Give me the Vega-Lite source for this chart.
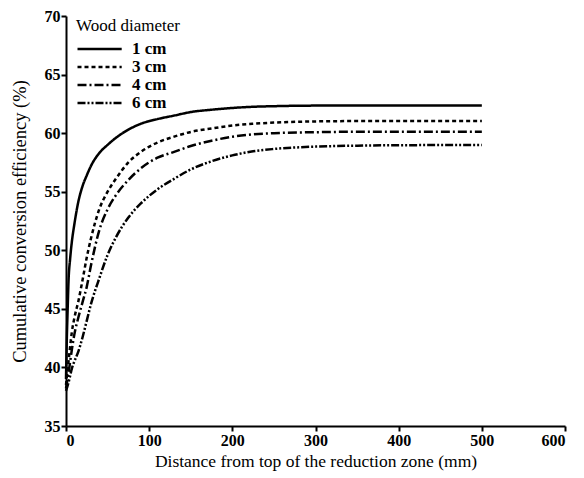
{
  "$schema": "https://vega.github.io/schema/vega-lite/v6.json",
  "width": 499,
  "height": 410,
  "autosize": {"type": "none"},
  "padding": {"left": 66, "top": 16, "right": 19, "bottom": 52},
  "background": "white",
  "config": {
    "view": {"stroke": null},
    "font": "Liberation Serif",
    "axis": {"grid": false, "domainColor": "black", "domainWidth": 2, "tickColor": "black", "tickWidth": 2, "tickSize": 5, "labelColor": "black", "titleColor": "black", "labelFont": "Liberation Serif", "titleFont": "Liberation Serif", "labelFontSize": 16, "labelFontWeight": "bold", "titleFontSize": 17.5, "titleFontWeight": "normal"}
  },
  "data": {"values": [
    {"d": 0, "v": 39.0, "s": "1 cm"}, {"d": 1, "v": 42.5, "s": "1 cm"}, {"d": 2, "v": 45.0, "s": "1 cm"}, {"d": 3, "v": 47.3, "s": "1 cm"}, {"d": 5, "v": 49.3, "s": "1 cm"}, {"d": 7, "v": 50.7, "s": "1 cm"}, {"d": 10, "v": 52.2, "s": "1 cm"}, {"d": 15, "v": 54.2, "s": "1 cm"}, {"d": 20, "v": 55.5, "s": "1 cm"}, {"d": 25, "v": 56.4, "s": "1 cm"}, {"d": 30, "v": 57.2, "s": "1 cm"}, {"d": 40, "v": 58.3, "s": "1 cm"}, {"d": 50, "v": 59.0, "s": "1 cm"}, {"d": 60, "v": 59.6, "s": "1 cm"}, {"d": 75, "v": 60.3, "s": "1 cm"}, {"d": 90, "v": 60.8, "s": "1 cm"}, {"d": 110, "v": 61.2, "s": "1 cm"}, {"d": 130, "v": 61.5, "s": "1 cm"}, {"d": 150, "v": 61.8, "s": "1 cm"}, {"d": 175, "v": 62.0, "s": "1 cm"}, {"d": 200, "v": 62.15, "s": "1 cm"}, {"d": 225, "v": 62.25, "s": "1 cm"}, {"d": 250, "v": 62.3, "s": "1 cm"}, {"d": 300, "v": 62.35, "s": "1 cm"}, {"d": 350, "v": 62.35, "s": "1 cm"}, {"d": 400, "v": 62.35, "s": "1 cm"}, {"d": 450, "v": 62.35, "s": "1 cm"}, {"d": 500, "v": 62.35, "s": "1 cm"},
    {"d": 0, "v": 38.5, "s": "3 cm"}, {"d": 3, "v": 40.5, "s": "3 cm"}, {"d": 5, "v": 41.8, "s": "3 cm"}, {"d": 7, "v": 43.0, "s": "3 cm"}, {"d": 10, "v": 44.2, "s": "3 cm"}, {"d": 15, "v": 45.7, "s": "3 cm"}, {"d": 20, "v": 47.5, "s": "3 cm"}, {"d": 25, "v": 49.4, "s": "3 cm"}, {"d": 30, "v": 51.0, "s": "3 cm"}, {"d": 40, "v": 53.5, "s": "3 cm"}, {"d": 50, "v": 55.0, "s": "3 cm"}, {"d": 60, "v": 56.1, "s": "3 cm"}, {"d": 75, "v": 57.5, "s": "3 cm"}, {"d": 90, "v": 58.4, "s": "3 cm"}, {"d": 110, "v": 59.2, "s": "3 cm"}, {"d": 130, "v": 59.7, "s": "3 cm"}, {"d": 150, "v": 60.1, "s": "3 cm"}, {"d": 175, "v": 60.4, "s": "3 cm"}, {"d": 200, "v": 60.65, "s": "3 cm"}, {"d": 225, "v": 60.8, "s": "3 cm"}, {"d": 250, "v": 60.9, "s": "3 cm"}, {"d": 300, "v": 61.0, "s": "3 cm"}, {"d": 350, "v": 61.03, "s": "3 cm"}, {"d": 400, "v": 61.03, "s": "3 cm"}, {"d": 450, "v": 61.03, "s": "3 cm"}, {"d": 500, "v": 61.03, "s": "3 cm"},
    {"d": 0, "v": 38.2, "s": "4 cm"}, {"d": 3, "v": 39.5, "s": "4 cm"}, {"d": 5, "v": 40.5, "s": "4 cm"}, {"d": 7, "v": 41.5, "s": "4 cm"}, {"d": 10, "v": 42.8, "s": "4 cm"}, {"d": 15, "v": 44.3, "s": "4 cm"}, {"d": 20, "v": 45.6, "s": "4 cm"}, {"d": 25, "v": 46.9, "s": "4 cm"}, {"d": 30, "v": 48.7, "s": "4 cm"}, {"d": 40, "v": 51.7, "s": "4 cm"}, {"d": 50, "v": 53.5, "s": "4 cm"}, {"d": 60, "v": 54.7, "s": "4 cm"}, {"d": 75, "v": 56.0, "s": "4 cm"}, {"d": 90, "v": 57.0, "s": "4 cm"}, {"d": 110, "v": 57.9, "s": "4 cm"}, {"d": 130, "v": 58.4, "s": "4 cm"}, {"d": 150, "v": 58.9, "s": "4 cm"}, {"d": 175, "v": 59.35, "s": "4 cm"}, {"d": 200, "v": 59.7, "s": "4 cm"}, {"d": 225, "v": 59.9, "s": "4 cm"}, {"d": 250, "v": 60.0, "s": "4 cm"}, {"d": 300, "v": 60.08, "s": "4 cm"}, {"d": 350, "v": 60.12, "s": "4 cm"}, {"d": 400, "v": 60.12, "s": "4 cm"}, {"d": 450, "v": 60.12, "s": "4 cm"}, {"d": 500, "v": 60.12, "s": "4 cm"},
    {"d": 0, "v": 38.0, "s": "6 cm"}, {"d": 3, "v": 38.7, "s": "6 cm"}, {"d": 5, "v": 39.3, "s": "6 cm"}, {"d": 7, "v": 39.9, "s": "6 cm"}, {"d": 10, "v": 40.5, "s": "6 cm"}, {"d": 15, "v": 41.4, "s": "6 cm"}, {"d": 20, "v": 42.6, "s": "6 cm"}, {"d": 25, "v": 44.0, "s": "6 cm"}, {"d": 30, "v": 45.4, "s": "6 cm"}, {"d": 40, "v": 47.6, "s": "6 cm"}, {"d": 50, "v": 49.6, "s": "6 cm"}, {"d": 60, "v": 51.1, "s": "6 cm"}, {"d": 75, "v": 52.8, "s": "6 cm"}, {"d": 90, "v": 54.0, "s": "6 cm"}, {"d": 110, "v": 55.2, "s": "6 cm"}, {"d": 130, "v": 56.1, "s": "6 cm"}, {"d": 150, "v": 56.9, "s": "6 cm"}, {"d": 175, "v": 57.6, "s": "6 cm"}, {"d": 200, "v": 58.1, "s": "6 cm"}, {"d": 225, "v": 58.45, "s": "6 cm"}, {"d": 250, "v": 58.65, "s": "6 cm"}, {"d": 300, "v": 58.85, "s": "6 cm"}, {"d": 350, "v": 58.93, "s": "6 cm"}, {"d": 400, "v": 58.97, "s": "6 cm"}, {"d": 450, "v": 58.98, "s": "6 cm"}, {"d": 500, "v": 58.98, "s": "6 cm"}
  ]},
  "mark": {"type": "line", "interpolate": "monotone", "strokeWidth": 2.5, "color": "black"},
  "encoding": {
    "x": {"field": "d", "type": "quantitative", "scale": {"domain": [0, 600], "nice": false}, "axis": {"values": [0, 100, 200, 300, 400, 500, 600], "title": "Distance from top of the reduction zone (mm)", "titleFont": "Liberation Serif", "titlePadding": 4, "labelPadding": 1}},
    "y": {"field": "v", "type": "quantitative", "scale": {"domain": [35, 70], "nice": false, "zero": false}, "axis": {"values": [35, 40, 45, 50, 55, 60, 65, 70], "title": "Cumulative conversion efficiency (%)", "titleFont": "Liberation Serif", "titleFontSize": 18.5, "titlePadding": 15, "labelPadding": 1}},
    "strokeDash": {"field": "s", "type": "nominal", "scale": {"domain": ["1 cm", "3 cm", "4 cm", "6 cm"], "range": [[1, 0], [4, 3], [9, 3, 2, 3], [8, 2, 2, 2, 2, 2]]},
      "legend": {"title": "Wood diameter", "orient": "none", "legendX": 10, "legendY": 2, "titleFont": "Liberation Serif", "titleFontSize": 17, "titleFontWeight": "normal", "titleColor": "black", "labelFont": "Liberation Serif", "labelFontSize": 17, "labelFontWeight": "bold", "labelColor": "black", "symbolType": "M-1,0H4.2", "symbolSize": 289, "symbolStrokeWidth": 2.5, "symbolStrokeColor": "black", "symbolFillColor": "transparent", "rowPadding": -1, "labelOffset": 36, "titlePadding": 4}}
  }
}
